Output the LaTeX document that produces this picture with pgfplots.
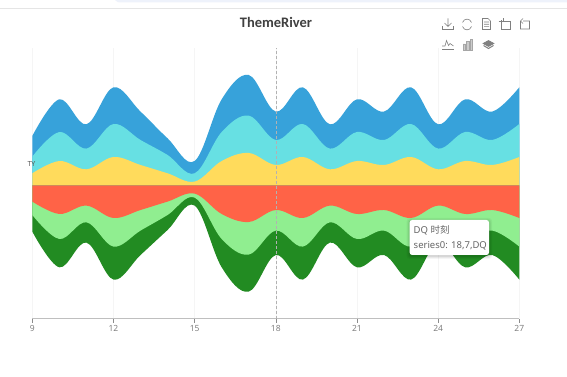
\documentclass[border=0pt]{standalone}
\usepackage{fontspec}
\usepackage{pgfplots}
\usepackage{pgfplotstable}
\pgfplotsset{compat=1.18}
\setmainfont{Noto Sans}
\newfontfamily\titlefont{Carlito}
\newfontfamily\cjk{Noto Sans CJK SC}
\definecolor{cBlue}{HTML}{37A2DA}
\definecolor{cCyan}{HTML}{67E0E3}
\definecolor{cYellow}{HTML}{FFDB5C}
\definecolor{cRed}{HTML}{FF6347}
\definecolor{cLight}{HTML}{90EE90}
\definecolor{cDark}{HTML}{228B22}
\definecolor{ico}{HTML}{808080}
\definecolor{strip}{HTML}{EEF2FB}
\pgfplotstableread{
x  a     b     c     e     f     g
9  49.3  28.7  12.0  -16.3 -29.7 -46.3
10 86.0  53.3  24.3  -28.7 -53.7 -82.0
11 61.0  36.7  16.0  -20.3 -37.0 -57.3
12 98.0  61.3  28.3  -32.7 -61.3 -94.3
13 73.7  45.3  20.3  -24.7 -45.3 -69.7
14 47.0  30.3  12.0  -16.3 -29.7 -44.7
15 24.3  12.0  3.7   -8.3  -12.3 -20.3
16 86.0  53.3  24.3  -28.7 -53.7 -82.0
17 110.3 69.7  32.3  -36.7 -69.3 -106.3
18 73.7  45.3  20.3  -24.7 -45.3 -69.7
19 98.0  61.3  28.3  -32.7 -61.3 -94.3
20 61.0  36.7  16.0  -20.3 -37.0 -57.3
21 86.0  53.3  24.3  -28.7 -53.7 -82.0
22 73.7  45.3  20.3  -24.7 -45.3 -69.7
23 98.0  61.3  28.3  -32.7 -61.3 -94.3
24 61.0  36.7  16.0  -20.3 -37.0 -57.3
25 86.0  53.3  24.3  -28.7 -53.7 -82.0
26 73.7  45.3  20.3  -24.7 -45.3 -69.7
27 98.0  61.3  28.3  -32.7 -61.3 -94.3
}\river
\pgfplotsset{bound/.style={draw=none,fill=#1,mark=none,forget plot,smooth,tension=0.6}}
\begin{document}
\begin{tikzpicture}
\path[use as bounding box,fill=white] (0pt,0pt) rectangle (567pt,377pt);
\begin{axis}[
  at={(32.3pt,58.3pt)},anchor=south west,
  scale only axis,width=487pt,height=271pt,
  xmin=9,xmax=27,ymin=-133.4,ymax=137.6,
  axis x line=bottom,axis y line=none,
  axis line style={draw=black!25,line width=1.2pt,-},
  xtick={9,12,...,27},
  xmajorgrids,grid style={draw=black!4,line width=.5pt},
  major tick length=4pt,tick align=outside,tick style={draw=black!45,line width=.5pt},
  tick label style={font=\fontsize{8.5}{10}\selectfont,text=black!50},
  xticklabel style={yshift=1pt},
  /pgf/number format/assume math mode=true,
  clip=false,
]
\addplot[bound=cBlue]   table[x=x,y=a] {\river} \closedcycle;
\addplot[bound=cCyan]   table[x=x,y=b] {\river} \closedcycle;
\addplot[bound=cYellow] table[x=x,y=c] {\river} \closedcycle;
\addplot[bound=cDark]   table[x=x,y=g] {\river} \closedcycle;
\addplot[bound=cLight]  table[x=x,y=f] {\river} \closedcycle;
\addplot[bound=cRed]    table[x=x,y=e] {\river} \closedcycle;
\addplot[draw=black!30,line width=.5pt,densely dashed,forget plot,mark=none] coordinates {(18,-133.4) (18,137.6)};
\end{axis}
\begin{scope}[x=1pt,y=-1pt,shift={(0pt,377pt)}]
  \fill[strip] (115,0) -- (567,0) -- (567,2.5) -- (122,2.5) .. controls (118,2.5) .. (115,0) -- cycle;
  \draw[black!10,line width=.8pt] (0,8.3) -- (567,8.3);
  \node[font=\titlefont\bfseries\fontsize{14.5}{16}\selectfont,text=black!75] at (276,22.5) {ThemeRiver};
  \node[font=\fontsize{7}{8}\selectfont,text=black!65] at (31.5,164) {TY};
  \begin{scope}[draw=ico,line width=.6pt]
    \draw (448,18.5) -- (448,26) (444.5,23) -- (448,26.5) -- (451.5,23);
    \draw (442.5,26) -- (442.5,29.5) -- (453.5,29.5) -- (453.5,26);
    \draw (462.5,22.5) .. controls (464,18) and (470,18) .. (471.5,22.5) (471.5,26.5) .. controls (470,31) and (464,31) .. (462.5,26.5);
    \draw (482.5,18.5) -- (488,18.5) -- (490.5,21) -- (490.5,29.5) -- (482.5,29.5) -- cycle (484,22) -- (489,22) (484,24.3) -- (489,24.3) (484,26.6) -- (489,26.6);
    \draw (501,20.5) -- (501,29) -- (510,29) -- (510,21.5) -- (503,21.5) (498.5,21) -- (503,21) -- (503,18.5);
    \draw (520.5,21) -- (520.5,29) -- (529.5,29) -- (529.5,21) -- (523,21) (523,18.5) -- (520.5,21) -- (523,23.5);
    \draw (442,49.5) -- (453.5,49.5);
    \draw (442,46) -- (445,46) -- (446.5,40.5) -- (448.5,45.5) -- (450,43.5) -- (453.5,46);
    \draw[fill=ico!40,draw=ico!70] (463,44) rectangle (465.5,50) (466.5,41.5) rectangle (469,50) (470,39.5) rectangle (472.5,50);
    \draw[fill=ico] (488.5,40.5) -- (494,43.5) -- (488.5,46.5) -- (483,43.5) -- cycle;
    \draw[line width=1pt] (483.5,45.5) -- (488.5,48.5) -- (493.5,45.5);
  \end{scope}
  \foreach \s/\o in {3/.04,2/.05,1/.07}{
    \fill[black,opacity=\o,rounded corners=3pt] (409.7-\s,220-\s+1) rectangle (489+\s,255+\s+1);
  }
  \fill[white,rounded corners=2.5pt] (409.7,220) rectangle (489,255);
  \node[anchor=base west,inner sep=0,font=\fontsize{9.5}{11}\selectfont,text=black!60] at (413.5,233.5) {DQ {\cjk 时刻}};
  \node[anchor=base west,inner sep=0,font=\fontsize{9.5}{11}\selectfont,text=black!60] at (413.5,248.5) {series0: 18,7,DQ};
\end{scope}
\end{tikzpicture}
\end{document}
